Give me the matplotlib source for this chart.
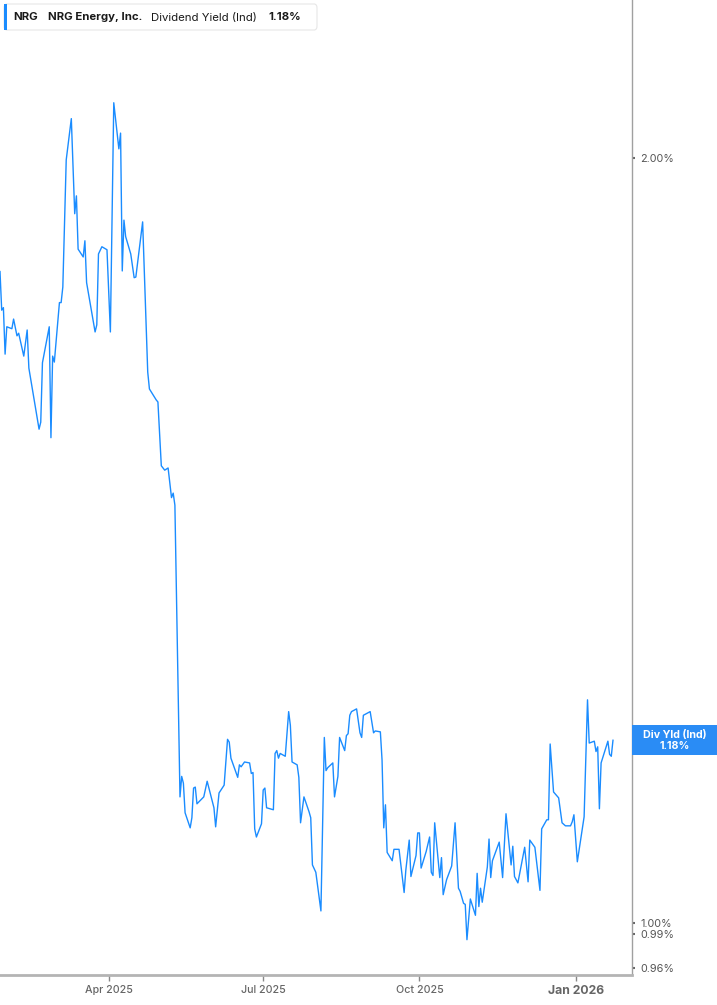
import matplotlib
matplotlib.use("Agg")
import matplotlib.pyplot as plt
from matplotlib.patches import Rectangle, FancyBboxPatch
import pandas as pd

# ── data ──────────────────────────────────────────────────────────────────────
# calendar days relative to 2025-04-01
day_offset = [
    -64, -63, -62, -61, -60, -57, -56, -54, -53, -50, -48, -47, -41, -40, -39,
    -35, -34, -33, -32, -29, -28, -27, -25, -22, -20, -19, -18, -15, -14, -13,
    -8, -7, -6, -4, -1, 1, 3, 6, 7, 8, 9, 10, 13, 15, 16, 20, 23, 24, 28, 29,
    31, 33, 35, 37, 38, 39, 42, 43, 44, 45, 48, 49, 50, 51, 52, 56, 58, 62, 63,
    65, 68, 70, 71, 72, 76, 77, 78, 80, 83, 84, 85, 86, 87, 90, 91, 92, 93, 97,
    98, 99, 100, 101, 104, 106, 107, 108, 111, 112, 113, 115, 118, 119, 120,
    122, 125, 127, 128, 129, 132, 133, 135, 136, 139, 140, 141, 142, 143, 146,
    148, 149, 150, 154, 156, 157, 160, 161, 162, 163, 164, 167, 168, 171, 174,
    175, 177, 178, 181, 182, 183, 184, 187, 189, 190, 191, 192, 195, 196, 197,
    199, 202, 204, 206, 207, 209, 210, 211, 213, 216, 217, 218, 219, 220, 223,
    224, 225, 226, 230, 232, 234, 237, 238, 239, 241, 245, 247, 248, 251, 254,
    255, 258, 259, 260, 262, 263, 265, 267, 269, 272, 273, 274, 276, 280, 282,
    283, 286, 287, 288, 289, 290, 294, 295, 296, 297,
]

# dividend yield, percent
div_yield = [
    1.804, 1.742, 1.746, 1.674, 1.716, 1.713, 1.728, 1.702, 1.706, 1.671, 1.711,
    1.653, 1.564, 1.574, 1.661, 1.716, 1.552, 1.671, 1.662, 1.754, 1.754, 1.779,
    1.996, 2.072, 1.901, 1.932, 1.841, 1.828, 1.855, 1.786, 1.708, 1.719, 1.833,
    1.845, 1.840, 1.708, 2.102, 2.016, 2.045, 1.805, 1.890, 1.862, 1.833, 1.794,
    1.795, 1.887, 1.647, 1.622, 1.606, 1.603, 1.513, 1.507, 1.510, 1.470, 1.476,
    1.460, 1.121, 1.142, 1.135, 1.105, 1.090, 1.100, 1.130, 1.131, 1.114, 1.121,
    1.137, 1.110, 1.091, 1.125, 1.133, 1.181, 1.178, 1.161, 1.141, 1.154, 1.152,
    1.157, 1.156, 1.145, 1.146, 1.089, 1.081, 1.094, 1.128, 1.130, 1.110, 1.108,
    1.166, 1.169, 1.161, 1.166, 1.163, 1.211, 1.196, 1.157, 1.154, 1.141, 1.095,
    1.121, 1.106, 1.100, 1.054, 1.047, 1.011, 1.183, 1.148, 1.151, 1.156, 1.121,
    1.142, 1.183, 1.169, 1.185, 1.187, 1.207, 1.211, 1.214, 1.188, 1.183, 1.207,
    1.211, 1.188, 1.190, 1.189, 1.159, 1.090, 1.113, 1.066, 1.058, 1.069, 1.069,
    1.028, 1.049, 1.078, 1.043, 1.063, 1.085, 1.085, 1.051, 1.067, 1.081, 1.047,
    1.044, 1.095, 1.042, 1.061, 1.026, 1.040, 1.053, 1.095, 1.032, 1.029, 1.018,
    1.017, 0.985, 1.022, 1.007, 1.046, 1.015, 1.032, 1.019, 1.052, 1.079, 1.042,
    1.058, 1.076, 1.042, 1.104, 1.054, 1.072, 1.043, 1.037, 1.071, 1.038, 1.078,
    1.071, 1.030, 1.089, 1.098, 1.098, 1.176, 1.126, 1.124, 1.120, 1.095, 1.092,
    1.092, 1.096, 1.103, 1.057, 1.101, 1.224, 1.177, 1.179, 1.168, 1.173, 1.109,
    1.156, 1.179, 1.165, 1.163, 1.180,
]

x_ticks = ["2025-04-01", "2025-07-01", "2025-10-01", "2026-01-01"]
x_tick_labels = ["Apr 2025", "Jul 2025", "Oct 2025", "Jan 2026"]
y_ticks = [0.96, 0.99, 1.00, 2.00]
y_tick_labels = ["0.96%", "0.99%", "1.00%", "2.00%"]

ticker = "NRG"
company = "NRG Energy, Inc."
metric = "Dividend Yield (Ind)"
short_metric = "Div Yld (Ind)"

# ── styling ───────────────────────────────────────────────────────────────────
LINE = "#1a8cff"
GRAY = "#666666"
plt.rcParams["font.family"] = ["Inter", "DejaVu Sans"]

W, H = 717, 1005
fig = plt.figure(figsize=(W / 100, H / 100), dpi=100)
ax = fig.add_axes([0, 30 / H, 632 / W, 975 / H])

base = pd.Timestamp("2025-04-01")
dates = base + pd.to_timedelta(day_offset, unit="D")
ax.plot(dates, div_yield, color=LINE, linewidth=1.0, solid_joinstyle="round")

ax.set_yscale("log")
ax.set_ylim(0.954, 2.307)
ax.set_xlim(base - pd.Timedelta(days=64.0), base + pd.Timedelta(days=308.2))

ax.yaxis.tick_right()
ax.set_yticks(y_ticks)
ax.set_yticklabels(y_tick_labels)
ax.yaxis.set_minor_locator(matplotlib.ticker.NullLocator())
ax.tick_params(axis="y", which="major", direction="out", length=2.5, width=1.5,
               color=GRAY, labelcolor="#555555", labelsize=7.8, pad=3.5)

ax.set_xticks(pd.to_datetime(x_ticks))
ax.set_xticklabels(x_tick_labels)
ax.tick_params(axis="x", direction="out", length=4, width=1, color="#888888",
               labelcolor=GRAY, labelsize=7.7, pad=3.5)
for lbl in ax.get_xticklabels():
    if lbl.get_text().startswith("Jan"):
        lbl.set_fontweight("bold")
        lbl.set_fontsize(8.8)
    else:
        lbl.set_fontweight("medium")

for s in ("top", "left"):
    ax.spines[s].set_visible(False)
ax.spines["right"].set_color("#a0a0a0")
ax.spines["right"].set_linewidth(1.0)
ax.spines["bottom"].set_color("#b4b4b4")
ax.spines["bottom"].set_linewidth(2.0)

# ── header box ────────────────────────────────────────────────────────────────
fig.patches.append(FancyBboxPatch((4 / W, 1 - 30 / H), 313 / W, 26 / H,
                                  boxstyle="round,pad=0,rounding_size=0.004",
                                  transform=fig.transFigure, facecolor="white",
                                  edgecolor="#e6e6e6", linewidth=0.8, zorder=5))
fig.patches.append(Rectangle((4 / W, 1 - 30 / H), 3 / W, 26 / H,
                             transform=fig.transFigure, facecolor=LINE,
                             edgecolor="none", zorder=6))
ty = 1 - 17.5 / H
fs_head = 8.2
fig.text(13 / W, ty, ticker, fontsize=fs_head, fontweight="bold", color="#1a1a1a",
         va="center", zorder=7)
fig.text(48 / W, ty, company, fontsize=fs_head, fontweight="bold", color="#1a1a1a",
         va="center", zorder=7)
fig.text(151 / W, ty, metric, fontsize=fs_head, color="#1a1a1a", va="center",
         zorder=7)
fig.text(268 / W, ty, f"{div_yield[-1]:.2f}%", fontsize=fs_head, fontweight="bold",
         color="#1a1a1a", va="center", zorder=7)

# ── last value tag on the right axis ──────────────────────────────────────────
fig.canvas.draw()
y_disp = ax.transData.transform((0, div_yield[-1]))[1]
y_fig = y_disp / H
fig.patches.append(Rectangle((632 / W, y_fig - 15 / H), 85 / W, 30 / H,
                             transform=fig.transFigure, facecolor="#2a8cf5",
                             edgecolor="none", zorder=5))
fig.text(675 / W, y_fig + 5.5 / H, short_metric, fontsize=7.7, fontweight="bold",
         color="white", ha="center", va="center", zorder=7)
fig.text(675 / W, y_fig - 6 / H, f"{div_yield[-1]:.2f}%", fontsize=7.7,
         fontweight="bold", color="white", ha="center", va="center", zorder=7)

fig.savefig("out.png", dpi=100)
